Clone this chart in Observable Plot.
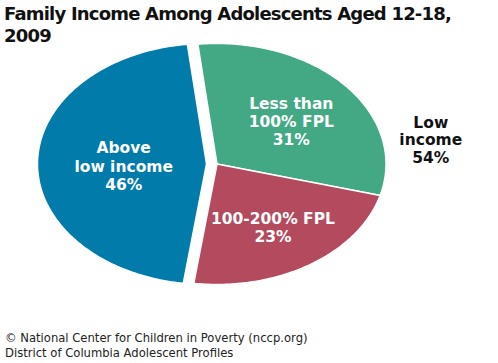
<!DOCTYPE html>
<html>
<head>
<meta charset="utf-8">
<script src="https://cdn.jsdelivr.net/npm/d3@7"></script>
<script src="https://cdn.jsdelivr.net/npm/@observablehq/plot@0.6"></script>
<style>
  html, body { margin: 0; padding: 0; background: #fff; }
  #wrap { position: relative; width: 498px; height: 363px; overflow: hidden; }
  #title { position: absolute; left: 4px; top: 3px; font-family: "DejaVu Sans", sans-serif; font-weight: bold; font-size: 18px; letter-spacing: -0.8px; line-height: 21.5px; color: #111; white-space: nowrap; }
  #caption { position: absolute; left: 5px; top: 331px; font-family: "DejaVu Sans", sans-serif; font-size: 11.6px; line-height: 15px; color: #222; white-space: nowrap; }
  #chart { position: absolute; left: 0; top: 0; }
</style>
</head>
<body>
<div id="wrap">
  <div id="chart"></div>
  <div id="title">Family Income Among Adolescents Aged 12-18,<br>2009</div>
  <div id="caption">© National Center for Children in Poverty (nccp.org)<br>District of Columbia Adolescent Profiles</div>
</div>
<script>
// ---- data ----
const categories = ["Less than 100% FPL", "100-200% FPL", "Above low income"];
const shares = [31, 23, 46];
const groups = ["Low income", "Low income", "Above low income"];
const sliceLabels = ["Less than\n100% FPL\n31%", "100-200% FPL\n23%", "Above\nlow income\n46%"];
const groupLabel = "Low\nincome\n54%";
const colors = ["#43a985", "#b44a5e", "#007baa"];

// ---- layout ----
const W = 498, H = 363;
const cx = 211.25, cy = 163.5, rx = 169, ry = 120.5;
const explode = 5.25;
const startDeg = -6.5;
const labelFrac = [0.58, 0.6, 0.49];

const total = d3.sum(shares);
const slices = [];
let a = startDeg;
shares.forEach((v, i) => {
  const span = v / total * 360;
  slices.push({cat: categories[i], group: groups[i], a0: a, a1: a + span, color: colors[i], label: sliceLabels[i], frac: labelFrac[i]});
  a += span;
});

// group angular spans; each group is pulled out along its mid angle (horizontal here)
const groupSpan = {};
slices.forEach(s => {
  const g = groupSpan[s.group] || (groupSpan[s.group] = {a0: s.a0, a1: s.a1});
  g.a0 = Math.min(g.a0, s.a0); g.a1 = Math.max(g.a1, s.a1);
});

const rad = d => d * Math.PI / 180;
const pts = [];
slices.forEach(s => {
  const gm = rad((groupSpan[s.group].a0 + groupSpan[s.group].a1) / 2);
  s.gx = cx + (Math.sin(gm) > 0 ? explode : -explode);
  s.gy = cy;
  pts.push({cat: s.cat, x: s.gx, y: s.gy});
  const n = Math.ceil(s.a1 - s.a0);
  for (let k = 0; k <= n; k++) {
    const t = rad(s.a0 + (s.a1 - s.a0) * k / n);
    pts.push({cat: s.cat, x: s.gx + rx * Math.sin(t), y: s.gy - ry * Math.cos(t)});
  }
  const m = rad((s.a0 + s.a1) / 2);
  s.lx = s.gx + rx * s.frac * Math.sin(m);
  s.ly = s.gy - ry * s.frac * Math.cos(m);
});

const lowCenter = slices[0].gx;
const outer = [{x: lowCenter + rx * 1.265, y: cy - 24, text: groupLabel}];

const chart = Plot.plot({
  width: W, height: H,
  margin: 0,
  x: {domain: [0, W], range: [0, W], axis: null},
  y: {domain: [0, H], range: [0, H], axis: null},
  style: {background: "transparent"},
  marks: [
    ...slices.map(s => Plot.line(pts.filter(p => p.cat === s.cat), {
      x: "x", y: "y", fill: s.color, stroke: "white", strokeWidth: 1.5, curve: "linear-closed"
    })),
    Plot.text(slices, {x: "lx", y: "ly", dy: 2.5, text: "label", fill: "white", fontSize: 15.5, fontWeight: "bold", fontFamily: "DejaVu Sans", lineHeight: 1.17}),
    Plot.text(outer, {x: "x", y: "y", text: "text", fill: "#111", fontSize: 15.5, fontWeight: "bold", fontFamily: "DejaVu Sans", lineHeight: 1.1})
  ]
});
document.getElementById("chart").appendChild(chart);
</script>
</body>
</html>
